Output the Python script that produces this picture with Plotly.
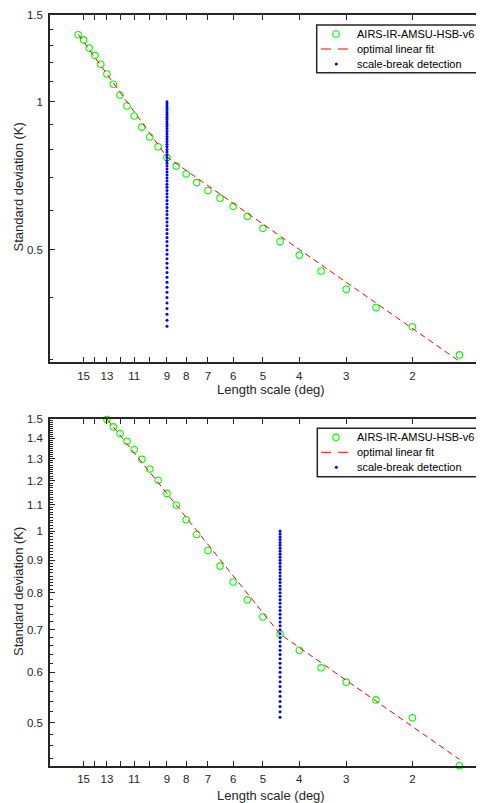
import math
import plotly.graph_objects as go

# ---------------- data ----------------
top_scale = [15.5, 15, 14.5, 14, 13.5, 13, 12.5, 12, 11.5, 11, 10.5, 10, 9.5, 9,
             8.5, 8, 7.5, 7, 6.5, 6, 5.5, 5, 4.5, 4, 3.5, 3, 2.5, 2, 1.5]
top_std = [1.368, 1.335, 1.285, 1.242, 1.191, 1.138, 1.085, 1.032, 0.980, 0.935,
           0.888, 0.848, 0.810, 0.770, 0.740, 0.713, 0.685, 0.660, 0.637, 0.613,
           0.585, 0.553, 0.520, 0.488, 0.453, 0.416, 0.382, 0.349, 0.306]
top_fit_scale = [15.5, 9, 1.5]
top_fit_std = [1.37, 0.772, 0.297]
top_break = 9
top_break_std = [1.00, 0.99, 0.98, 0.97, 0.96, 0.95, 0.94, 0.93, 0.92, 0.91, 0.90,
                 0.89, 0.88, 0.87, 0.86, 0.85, 0.84, 0.83, 0.82, 0.81, 0.80, 0.79,
                 0.78, 0.77, 0.76, 0.75, 0.74, 0.73, 0.72, 0.71, 0.70, 0.69, 0.68,
                 0.67, 0.66, 0.65, 0.64, 0.63, 0.62, 0.61, 0.60, 0.59, 0.58, 0.57,
                 0.56, 0.55, 0.54, 0.53, 0.52, 0.51, 0.50, 0.49, 0.48, 0.47, 0.46,
                 0.45, 0.44, 0.43, 0.42, 0.41, 0.40, 0.39, 0.38, 0.37, 0.36, 0.35]

bot_scale = [13, 12.5, 12, 11.5, 11, 10.5, 10, 9.5, 9, 8.5, 8, 7.5, 7, 6.5, 6,
             5.5, 5, 4.5, 4, 3.5, 3, 2.5, 2, 1.5]
bot_std = [1.497, 1.458, 1.423, 1.384, 1.343, 1.297, 1.252, 1.202, 1.146, 1.099,
           1.042, 0.988, 0.932, 0.881, 0.832, 0.780, 0.733, 0.689, 0.650, 0.610,
           0.579, 0.543, 0.509, 0.428]
bot_fit_scale = [13, 4.5, 1.5]
bot_fit_std = [1.5, 0.689, 0.438]
bot_break = 4.5
bot_break_std = [1.00, 0.99, 0.98, 0.97, 0.96, 0.95, 0.94, 0.93, 0.92, 0.91, 0.90,
                 0.89, 0.88, 0.87, 0.86, 0.85, 0.84, 0.83, 0.82, 0.81, 0.80, 0.79,
                 0.78, 0.77, 0.76, 0.75, 0.74, 0.73, 0.72, 0.71, 0.70, 0.69, 0.68,
                 0.67, 0.66, 0.65, 0.64, 0.63, 0.62, 0.61, 0.60, 0.59, 0.58, 0.57,
                 0.56, 0.55, 0.54, 0.53, 0.52, 0.51]

x_tickvals = [15, 14, 13, 12, 11, 10, 9, 8, 7, 6, 5, 4, 3, 2]
x_ticktext = ["15", "", "13", "", "11", "", "9", "8", "7", "6", "5", "4", "3", "2"]

top_y_tickvals = [0.5, 1, 1.5]
top_y_ticktext = ["0.5", "1", "1.5"]
top_y_minor = [0.3, 0.4, 0.6, 0.7, 0.8, 0.9, 1.1, 1.2, 1.3, 1.4]

bot_y_tickvals = [0.5, 0.6, 0.7, 0.8, 0.9, 1.0, 1.1, 1.2, 1.3, 1.4, 1.5]
bot_y_ticktext = ["0.5", "0.6", "0.7", "0.8", "0.9", "1", "1.1", "1.2", "1.3", "1.4", "1.5"]
bot_y_minor = ([round(0.44 + 0.02 * i, 2) for i in range(18)] +
               [round(0.81 + 0.01 * i, 2) for i in range(69)])
bot_y_minor = [v for v in bot_y_minor if round(v * 10, 6) != round(v * 10)]

series_names = ["AIRS-IR-AMSU-HSB-v6", "optimal linear fit", "scale-break detection"]
x_title = "Length scale (deg)"
y_title = "Standard deviation (K)"

# ---------------- style / geometry ----------------
VIEW_W, VIEW_H = 484, 803
OFF = 8                       # default page body margin
W, H = VIEW_W - OFF, VIEW_H - OFF
FONT = "Liberation Sans, Arial, Helvetica, sans-serif"
AX = "#262626"
GREEN = "#00ff00"
RED = "#ff0000"
BLUE = "#0000ff"


def px(x):
    return (x - OFF) / W


def py(y):
    return 1 - (y - OFF) / H


fig = go.Figure()


def add_panel(xs, ys, fx, fy, brk, brk_y, xa, ya):
    fig.add_trace(go.Scatter(
        x=xs, y=ys, mode="markers", name=series_names[0], showlegend=False,
        marker=dict(symbol="circle-open", size=6.5, color=GREEN, line=dict(width=1.1, color=GREEN)),
        xaxis=xa, yaxis=ya, cliponaxis=False))
    fig.add_trace(go.Scatter(
        x=fx, y=fy, mode="lines", name=series_names[1], showlegend=False,
        line=dict(color=RED, width=1, dash="6px,4px"),
        xaxis=xa, yaxis=ya))
    fig.add_trace(go.Scatter(
        x=[brk] * len(brk_y), y=brk_y, mode="markers", name=series_names[2], showlegend=False,
        marker=dict(symbol="circle", size=3, color=BLUE),
        xaxis=xa, yaxis=ya))


add_panel(top_scale, top_std, top_fit_scale, top_fit_std, top_break, top_break_std, "x", "y")
add_panel(bot_scale, bot_std, bot_fit_scale, bot_fit_std, bot_break, bot_break_std, "x2", "y2")

x_range = [1.2655, 0.1106]
x_dom = [px(50), 1.0]


def xaxis_cfg(anchor):
    return dict(
        type="log", range=x_range, domain=x_dom, anchor=anchor,
        tickmode="array", tickvals=x_tickvals, ticktext=x_ticktext,
        ticks="inside", ticklen=5, tickwidth=1.3, tickcolor=AX,
        showline=True, linecolor=AX, linewidth=1.5, mirror="ticks",
        showgrid=False, zeroline=False, ticklabelstandoff=2,
        tickfont=dict(family=FONT, size=11.5, color=AX), automargin=False)


def yaxis_cfg(anchor, rng, dom, tv, tt, minor):
    return dict(
        type="log", range=[math.log10(rng[0]), math.log10(rng[1])], domain=dom, anchor=anchor,
        tickmode="array", tickvals=tv, ticktext=tt,
        ticks="inside", ticklen=5, tickwidth=1.3, tickcolor=AX,
        minor=dict(tickmode="array", tickvals=minor, ticks="inside", ticklen=3,
                   tickwidth=1.1, tickcolor=AX, showgrid=False),
        showline=True, linecolor=AX, linewidth=1.5, mirror=False,
        showgrid=False, zeroline=False, ticklabelstandoff=3,
        tickfont=dict(family=FONT, size=11.5, color=AX), automargin=False)


top_dom = [py(362), py(15)]
bot_dom = [py(765.7), py(419)]

title_font = dict(family=FONT, size=13, color=AX)
annotations = []
shapes = []
for (xt_y, yt_y) in [(389, 187.5), (795, 592)]:
    annotations.append(dict(text=x_title, x=px(271), y=py(xt_y),
                            xref="paper", yref="paper", showarrow=False, font=title_font,
                            xanchor="center", yanchor="middle"))
    annotations.append(dict(text=y_title, x=px(18), y=py(yt_y), xref="paper", yref="paper",
                            showarrow=False, font=title_font, textangle=-90,
                            xanchor="center", yanchor="middle"))

# legend boxes (drawn as shapes + text)
leg_font = dict(family=FONT, size=11, color="#000000")
for (bx0, by0, bx1, by1, rows) in [(316.7, 25, 480, 72.7, (34, 49, 64)),
                                   (317.3, 428.3, 480, 476.7, (437.3, 452.3, 467.3))]:
    shapes.append(dict(type="rect", xref="paper", yref="paper",
                       x0=px(bx0), x1=px(bx1), y0=py(by1), y1=py(by0),
                       line=dict(color=AX, width=1.5), fillcolor="white", layer="above"))
    r0, r1, r2 = rows
    # circle marker
    shapes.append(dict(type="circle", xref="paper", yref="paper",
                       x0=px(336 - 3.2), x1=px(336 + 3.2), y0=py(r0 + 3.2), y1=py(r0 - 3.2),
                       line=dict(color=GREEN, width=1.1), layer="above"))
    # dashed line
    shapes.append(dict(type="line", xref="paper", yref="paper",
                       x0=px(321), x1=px(348), y0=py(r1), y1=py(r1),
                       line=dict(color=RED, width=1, dash="10px,7px"), layer="above"))
    # dot
    shapes.append(dict(type="circle", xref="paper", yref="paper",
                       x0=px(336.3 - 1.5), x1=px(336.3 + 1.5), y0=py(r2 + 1.5), y1=py(r2 - 1.5),
                       line=dict(color=BLUE, width=0), fillcolor=BLUE, layer="above"))
    for name, ry in zip(series_names, rows):
        annotations.append(dict(text=name, x=px(355), y=py(ry), xref="paper", yref="paper",
                                showarrow=False, font=leg_font, xanchor="left",
                                yanchor="middle"))

fig.update_layout(
    width=W, height=H, margin=dict(l=0, r=0, t=0, b=0),
    paper_bgcolor="white", plot_bgcolor="white",
    xaxis=xaxis_cfg("y"),
    yaxis=yaxis_cfg("x", [0.296, 1.5], top_dom, top_y_tickvals, top_y_ticktext, top_y_minor),
    xaxis2=xaxis_cfg("y2"),
    yaxis2=yaxis_cfg("x2", [0.428, 1.5], bot_dom, bot_y_tickvals, bot_y_ticktext, bot_y_minor),
    annotations=annotations,
    shapes=shapes,
    showlegend=False,
)

fig.write_html("out.html")
